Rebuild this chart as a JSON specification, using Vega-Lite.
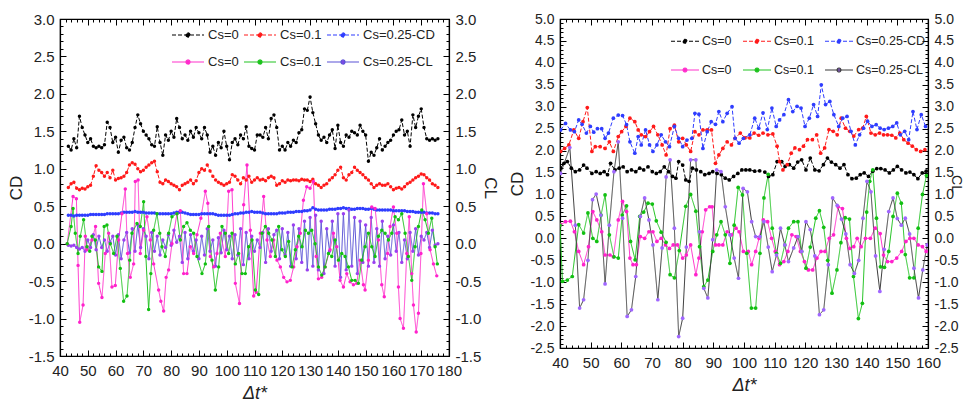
{
"$schema":"https://vega.github.io/schema/vega-lite/v6.json",
"padding":{"left":6,"top":11,"right":0,"bottom":0},
"spacing":8,
"config":{"font":"Liberation Sans","view":{"stroke":"#000","strokeWidth":1.2},
"axis":{"labelFont":"Liberation Sans","labelFontSize":15,"labelColor":"#222","domainColor":"#000","domainWidth":1.2,"tickColor":"#000","tickWidth":1,"grid":false,"labelOverlap":false,"labelFlush":false,"titleFont":"Liberation Sans","titleFontWeight":"normal","titleColor":"#222"},
"legend":{"labelFont":"Liberation Sans","labelFontSize":14,"labelColor":"#222"}},
"resolve":{"scale":{"stroke":"independent","color":"independent","strokeDash":"independent"},"legend":{"stroke":"independent","color":"independent","strokeDash":"independent"}},
"datasets":{
"L":[
{"t":43,"a":1.30,"b":0.75,"c":0.38,"f":-0.02},{"t":44,"a":1.25,"b":0.80,"c":0.38,"f":-0.03},{"t":45,"a":1.40,"b":0.82,"c":0.37,"f":-0.02},{"t":46,"a":1.28,"b":0.74,"c":0.38,"f":-0.05},{"t":47,"a":1.70,"b":0.72,"c":0.38,"f":-0.07},{"t":48,"a":1.55,"b":0.74,"c":0.38,"f":-0.05},{"t":49,"a":1.45,"b":0.73,"c":0.38,"f":-0.10},{"t":50,"a":1.35,"b":0.76,"c":0.38,"f":0.05},{"t":51,"a":1.40,"b":0.78,"c":0.39,"f":-0.05},{"t":52,"a":1.30,"b":0.90,"c":0.39,"f":0.12},{"t":53,"a":1.28,"b":1.04,"c":0.39,"f":-0.08},{"t":54,"a":1.30,"b":0.98,"c":0.39,"f":0.10},{"t":55,"a":1.28,"b":0.95,"c":0.39,"f":-0.05},{"t":56,"a":1.32,"b":0.90,"c":0.39,"f":0.05},{"t":57,"a":1.62,"b":0.95,"c":0.40,"f":-0.10},{"t":58,"a":1.55,"b":0.88,"c":0.40,"f":0.02},{"t":59,"a":1.35,"b":0.98,"c":0.40,"f":0.10},{"t":60,"a":1.42,"b":0.85,"c":0.40,"f":-0.15},{"t":61,"a":1.22,"b":0.87,"c":0.40,"f":0.12},{"t":62,"a":1.38,"b":0.88,"c":0.41,"f":-0.20},{"t":63,"a":1.42,"b":0.90,"c":0.42,"f":0.05},{"t":64,"a":1.28,"b":0.95,"c":0.42,"f":0.15},{"t":65,"a":1.25,"b":1.05,"c":0.42,"f":-0.12},{"t":66,"a":1.35,"b":1.08,"c":0.42,"f":0.20},{"t":67,"a":1.55,"b":1.06,"c":0.43,"f":-0.10},{"t":68,"a":1.72,"b":1.00,"c":0.42,"f":0.25},{"t":69,"a":1.60,"b":0.96,"c":0.42,"f":-0.05},{"t":70,"a":1.50,"b":0.98,"c":0.42,"f":0.20},{"t":71,"a":1.45,"b":1.02,"c":0.41,"f":0.10},{"t":72,"a":1.40,"b":1.05,"c":0.41,"f":-0.20},{"t":73,"a":1.32,"b":1.08,"c":0.41,"f":0.15},{"t":74,"a":1.30,"b":1.10,"c":0.41,"f":-0.10},{"t":75,"a":1.56,"b":0.96,"c":0.40,"f":0.10},{"t":76,"a":1.35,"b":0.82,"c":0.40,"f":-0.15},{"t":77,"a":1.18,"b":0.80,"c":0.40,"f":0.05},{"t":78,"a":1.45,"b":0.85,"c":0.40,"f":-0.05},{"t":79,"a":1.38,"b":0.83,"c":0.40,"f":0.12},{"t":80,"a":1.50,"b":0.80,"c":0.40,"f":-0.02},{"t":81,"a":1.42,"b":0.78,"c":0.41,"f":0.18},{"t":82,"a":1.67,"b":0.76,"c":0.42,"f":0.02},{"t":83,"a":1.55,"b":0.72,"c":0.42,"f":0.10},{"t":84,"a":1.40,"b":0.78,"c":0.42,"f":-0.25},{"t":85,"a":1.45,"b":0.80,"c":0.41,"f":0.15},{"t":86,"a":1.38,"b":0.82,"c":0.40,"f":-0.20},{"t":87,"a":1.50,"b":0.85,"c":0.39,"f":0.12},{"t":88,"a":1.42,"b":0.80,"c":0.39,"f":-0.10},{"t":89,"a":1.55,"b":0.84,"c":0.39,"f":0.05},{"t":90,"a":1.48,"b":0.95,"c":0.39,"f":-0.20},{"t":91,"a":1.40,"b":1.00,"c":0.40,"f":0.10},{"t":92,"a":1.55,"b":0.98,"c":0.40,"f":-0.15},{"t":93,"a":1.45,"b":1.05,"c":0.40,"f":0.20},{"t":94,"a":1.22,"b":0.97,"c":0.40,"f":-0.10},{"t":95,"a":1.30,"b":0.90,"c":0.40,"f":0.05},{"t":96,"a":1.18,"b":0.85,"c":0.39,"f":-0.30},{"t":97,"a":1.35,"b":0.82,"c":0.38,"f":0.08},{"t":98,"a":1.28,"b":0.80,"c":0.38,"f":-0.12},{"t":99,"a":1.50,"b":0.78,"c":0.38,"f":0.18},{"t":100,"a":1.30,"b":0.80,"c":0.38,"f":-0.08},{"t":101,"a":1.12,"b":0.82,"c":0.38,"f":0.10},{"t":102,"a":1.35,"b":0.92,"c":0.39,"f":-0.20},{"t":103,"a":1.40,"b":0.90,"c":0.40,"f":0.12},{"t":104,"a":1.32,"b":0.85,"c":0.40,"f":-0.15},{"t":105,"a":1.45,"b":0.80,"c":0.41,"f":0.20},{"t":106,"a":1.40,"b":0.88,"c":0.41,"f":-0.28},{"t":107,"a":1.56,"b":0.85,"c":0.42,"f":0.15},{"t":108,"a":1.30,"b":0.90,"c":0.42,"f":-0.20},{"t":109,"a":1.27,"b":0.82,"c":0.43,"f":0.10},{"t":110,"a":1.25,"b":0.85,"c":0.42,"f":-0.10},{"t":111,"a":1.45,"b":0.88,"c":0.42,"f":0.05},{"t":112,"a":1.45,"b":0.85,"c":0.42,"f":-0.05},{"t":113,"a":1.42,"b":0.86,"c":0.41,"f":0.15},{"t":114,"a":1.55,"b":0.84,"c":0.40,"f":-0.25},{"t":115,"a":1.40,"b":0.88,"c":0.40,"f":0.20},{"t":116,"a":1.67,"b":0.90,"c":0.40,"f":-0.10},{"t":117,"a":1.72,"b":0.88,"c":0.40,"f":0.12},{"t":118,"a":1.55,"b":0.78,"c":0.40,"f":0.18},{"t":119,"a":1.25,"b":0.80,"c":0.41,"f":-0.20},{"t":120,"a":1.30,"b":0.84,"c":0.41,"f":0.20},{"t":121,"a":1.25,"b":0.82,"c":0.41,"f":-0.15},{"t":122,"a":1.35,"b":0.85,"c":0.42,"f":0.15},{"t":123,"a":1.30,"b":0.84,"c":0.42,"f":-0.30},{"t":124,"a":1.38,"b":0.85,"c":0.42,"f":0.25},{"t":125,"a":1.35,"b":0.85,"c":0.43,"f":-0.20},{"t":126,"a":1.48,"b":0.84,"c":0.43,"f":0.20},{"t":127,"a":1.52,"b":0.86,"c":0.43,"f":-0.25},{"t":128,"a":1.80,"b":0.85,"c":0.44,"f":0.30},{"t":129,"a":1.78,"b":0.85,"c":0.44,"f":-0.35},{"t":130,"a":1.96,"b":0.83,"c":0.45,"f":0.35},{"t":131,"a":1.75,"b":0.86,"c":0.48,"f":-0.30},{"t":132,"a":1.60,"b":0.80,"c":0.46,"f":0.38},{"t":133,"a":1.45,"b":0.78,"c":0.45,"f":-0.35},{"t":134,"a":1.38,"b":0.75,"c":0.45,"f":0.30},{"t":135,"a":1.42,"b":0.78,"c":0.45,"f":-0.40},{"t":136,"a":1.35,"b":0.80,"c":0.45,"f":0.20},{"t":137,"a":1.45,"b":0.85,"c":0.46,"f":-0.10},{"t":138,"a":1.52,"b":0.88,"c":0.46,"f":0.30},{"t":139,"a":1.27,"b":0.92,"c":0.46,"f":-0.30},{"t":140,"a":1.58,"b":0.98,"c":0.47,"f":0.40},{"t":141,"a":1.35,"b":1.02,"c":0.47,"f":-0.45},{"t":142,"a":1.30,"b":0.88,"c":0.48,"f":0.40},{"t":143,"a":1.45,"b":0.85,"c":0.47,"f":-0.35},{"t":144,"a":1.42,"b":0.92,"c":0.47,"f":0.45},{"t":145,"a":1.50,"b":0.95,"c":0.46,"f":-0.30},{"t":146,"a":1.48,"b":1.02,"c":0.46,"f":0.35},{"t":147,"a":1.45,"b":0.98,"c":0.47,"f":-0.40},{"t":148,"a":1.58,"b":0.95,"c":0.47,"f":0.30},{"t":149,"a":1.50,"b":0.92,"c":0.47,"f":-0.25},{"t":150,"a":1.45,"b":0.88,"c":0.46,"f":0.25},{"t":151,"a":1.10,"b":0.85,"c":0.46,"f":-0.30},{"t":152,"a":1.22,"b":0.80,"c":0.47,"f":0.35},{"t":153,"a":1.18,"b":0.75,"c":0.46,"f":-0.25},{"t":154,"a":1.28,"b":0.78,"c":0.45,"f":0.20},{"t":155,"a":1.40,"b":0.80,"c":0.45,"f":-0.30},{"t":156,"a":1.25,"b":0.78,"c":0.45,"f":0.30},{"t":157,"a":1.30,"b":0.78,"c":0.45,"f":-0.20},{"t":158,"a":1.35,"b":0.80,"c":0.45,"f":0.10},{"t":159,"a":1.38,"b":0.76,"c":0.45,"f":-0.15},{"t":160,"a":1.45,"b":0.72,"c":0.44,"f":0.25},{"t":161,"a":1.50,"b":0.74,"c":0.44,"f":-0.10},{"t":162,"a":1.52,"b":0.75,"c":0.44,"f":0.15},{"t":163,"a":1.65,"b":0.73,"c":0.44,"f":-0.25},{"t":164,"a":1.45,"b":0.76,"c":0.44,"f":0.05},{"t":165,"a":1.50,"b":0.80,"c":0.43,"f":-0.20},{"t":166,"a":1.30,"b":0.82,"c":0.43,"f":0.15},{"t":167,"a":1.72,"b":0.85,"c":0.43,"f":-0.10},{"t":168,"a":1.55,"b":0.88,"c":0.42,"f":0.20},{"t":169,"a":1.70,"b":0.90,"c":0.42,"f":-0.15},{"t":170,"a":1.80,"b":0.93,"c":0.42,"f":0.10},{"t":171,"a":1.55,"b":0.92,"c":0.42,"f":0.05},{"t":172,"a":1.40,"b":0.88,"c":0.41,"f":0.15},{"t":173,"a":1.38,"b":0.85,"c":0.41,"f":-0.05},{"t":174,"a":1.40,"b":0.80,"c":0.41,"f":0.18},{"t":175,"a":1.38,"b":0.78,"c":0.40,"f":-0.02},{"t":176,"a":1.40,"b":0.75,"c":0.40,"f":0.00},
{"t":42.6,"d":0},{"t":44.7,"d":0.63},{"t":45.9,"d":0.6},{"t":46.5,"d":-0.29},{"t":47.1,"d":-1.05},{"t":48.3,"d":-0.82},{"t":49.1,"d":0.1},{"t":49.7,"d":-0.08},{"t":51.5,"d":0.05},{"t":52.8,"d":0.23},{"t":53.9,"d":-0.53},{"t":55.1,"d":-0.72},{"t":56.3,"d":-0.13},{"t":57.5,"d":0.14},{"t":58.7,"d":-0.58},{"t":59.9,"d":-0.56},{"t":61.1,"d":0.05},{"t":62.3,"d":0.4},{"t":63.5,"d":0.73},{"t":64.3,"d":-0.13},{"t":65.3,"d":-0.45},{"t":66.5,"d":-0.27},{"t":67.1,"d":0.83},{"t":68.1,"d":0.85},{"t":68.9,"d":-0.13},{"t":70.1,"d":0.18},{"t":71.3,"d":0.36},{"t":72.5,"d":0.05},{"t":73.7,"d":-0.27},{"t":75.5,"d":-0.62},{"t":76.3,"d":-0.77},{"t":77.3,"d":-0.9},{"t":78.2,"d":-0.45},{"t":79.1,"d":-0.35},{"t":80.3,"d":0},{"t":82.1,"d":0.4},{"t":83.3,"d":0.44},{"t":84.5,"d":-0.4},{"t":85.7,"d":-0.4},{"t":86.9,"d":-0.04},{"t":88.1,"d":-0.13},{"t":89.3,"d":0.12},{"t":90.7,"d":0.34},{"t":92.3,"d":0.7},{"t":93.2,"d":0.54},{"t":94.1,"d":-0.17},{"t":95.3,"d":-0.31},{"t":96.5,"d":-0.13},{"t":97.7,"d":0.14},{"t":99.5,"d":-0.17},{"t":100.7,"d":0.7},{"t":101.9,"d":0.72},{"t":103.1,"d":-0.53},{"t":104.6,"d":-0.8},{"t":106.1,"d":0.52},{"t":107.3,"d":1.05},{"t":108.5,"d":0.18},{"t":109.7,"d":-0.7},{"t":110.6,"d":-0.65},{"t":112.1,"d":0.14},{"t":113.3,"d":0.63},{"t":114.5,"d":0.05},{"t":115.7,"d":-0.17},{"t":116.9,"d":0.05},{"t":118.1,"d":-0.22},{"t":119.3,"d":-0.31},{"t":120.5,"d":-0.45},{"t":121.7,"d":-0.51},{"t":122.9,"d":-0.49},{"t":124.1,"d":-0.31},{"t":125.3,"d":-0.04},{"t":126.5,"d":0.14},{"t":127.6,"d":0.58},{"t":128.8,"d":0.76},{"t":130,"d":0.74},{"t":131.2,"d":0.83},{"t":132.2,"d":-0.17},{"t":133,"d":-0.47},{"t":134.2,"d":-0.45},{"t":135.4,"d":-0.31},{"t":137.2,"d":-0.08},{"t":138.4,"d":0.14},{"t":139.6,"d":-0.04},{"t":140.8,"d":-0.49},{"t":142,"d":-0.58},{"t":143.2,"d":-0.4},{"t":144.4,"d":-0.51},{"t":145.6,"d":-0.55},{"t":146.8,"d":-0.53},{"t":148,"d":-0.22},{"t":149.2,"d":-0.55},{"t":149.8,"d":-0.62},{"t":151,"d":-0.22},{"t":152.2,"d":0.49},{"t":153.4,"d":0.47},{"t":154.6,"d":0.05},{"t":155.8,"d":-0.55},{"t":156.7,"d":-0.71},{"t":157.9,"d":-0.13},{"t":158.8,"d":0.23},{"t":160,"d":0.49},{"t":161.2,"d":0.14},{"t":161.8,"d":-0.58},{"t":162.4,"d":-1.0},{"t":163.6,"d":-1.13},{"t":164.8,"d":-0.13},{"t":165.7,"d":0.36},{"t":166.6,"d":-0.4},{"t":167.2,"d":-0.82},{"t":168.2,"d":-1.18},{"t":169,"d":-0.93},{"t":169.9,"d":-0.13},{"t":170.8,"d":0.8},{"t":172,"d":0.4},{"t":173.2,"d":-0.08},{"t":174.4,"d":-0.27},{"t":175.6,"d":-0.43},
{"t":42.6,"e":0},{"t":44,"e":0.23},{"t":44.7,"e":0.47},{"t":45.5,"e":0.14},{"t":46.5,"e":-0.13},{"t":47.3,"e":0.1},{"t":48.5,"e":0.32},{"t":49.7,"e":-0.04},{"t":50.7,"e":-0.1},{"t":51.5,"e":0.1},{"t":52.7,"e":0.05},{"t":53.9,"e":-0.31},{"t":55.1,"e":-0.37},{"t":55.9,"e":0.23},{"t":56.9,"e":0.25},{"t":58.1,"e":0},{"t":59.3,"e":-0.13},{"t":60.5,"e":0.1},{"t":61.7,"e":-0.33},{"t":62.9,"e":-0.77},{"t":64.1,"e":-0.7},{"t":65.1,"e":-0.22},{"t":65.9,"e":0.14},{"t":67.7,"e":0.27},{"t":68.9,"e":0.23},{"t":70.1,"e":0.56},{"t":70.9,"e":-0.17},{"t":71.9,"e":-0.88},{"t":72.7,"e":-0.4},{"t":73.7,"e":0.18},{"t":74.9,"e":0.4},{"t":75.9,"e":0.14},{"t":76.7,"e":-0.04},{"t":77.9,"e":-0.17},{"t":79.1,"e":0.14},{"t":80.3,"e":0.36},{"t":82.1,"e":0.4},{"t":83.3,"e":0.05},{"t":84.5,"e":0.23},{"t":85.7,"e":0.28},{"t":86.9,"e":0.18},{"t":88.1,"e":0.14},{"t":89.3,"e":-0.17},{"t":91.1,"e":-0.4},{"t":92.3,"e":-0.27},{"t":93.5,"e":0.23},{"t":94.7,"e":-0.22},{"t":95.9,"e":-0.62},{"t":97.1,"e":-0.31},{"t":98.3,"e":0.23},{"t":99.5,"e":0.14},{"t":100.7,"e":-0.13},{"t":101.9,"e":0.14},{"t":103.1,"e":-0.27},{"t":104.3,"e":-0.13},{"t":105.5,"e":-0.4},{"t":106.7,"e":-0.4},{"t":107.9,"e":-0.04},{"t":109.1,"e":0.05},{"t":110.3,"e":-0.62},{"t":111.5,"e":-0.68},{"t":112.7,"e":0.14},{"t":113.9,"e":0.23},{"t":115.1,"e":0.14},{"t":116.3,"e":0.05},{"t":117.5,"e":-0.17},{"t":118.7,"e":0.23},{"t":119.9,"e":-0.08},{"t":121.1,"e":-0.17},{"t":122.3,"e":0.03},{"t":123.5,"e":-0.31},{"t":124.7,"e":-0.08},{"t":125.9,"e":0.1},{"t":127.1,"e":-0.04},{"t":128.3,"e":0.18},{"t":129.4,"e":0.14},{"t":130.6,"e":0.18},{"t":131.8,"e":0},{"t":133,"e":-0.31},{"t":134.2,"e":-0.42},{"t":135.4,"e":-0.31},{"t":136.6,"e":-0.13},{"t":137.8,"e":-0.17},{"t":139,"e":0.05},{"t":140.2,"e":-0.22},{"t":141.4,"e":-0.13},{"t":142.6,"e":-0.17},{"t":143.8,"e":-0.31},{"t":145,"e":-0.49},{"t":146.2,"e":-0.49},{"t":147.4,"e":-0.53},{"t":148.6,"e":-0.22},{"t":149.8,"e":-0.04},{"t":151,"e":0.14},{"t":152.2,"e":-0.04},{"t":153.4,"e":-0.17},{"t":154.6,"e":0.1},{"t":155.8,"e":0.18},{"t":157,"e":0.14},{"t":158.2,"e":0.05},{"t":159.4,"e":0.14},{"t":160.6,"e":0.36},{"t":161.8,"e":0.32},{"t":163,"e":0.4},{"t":164.2,"e":0.14},{"t":165.4,"e":-0.17},{"t":166.6,"e":-0.49},{"t":167.8,"e":-0.04},{"t":169,"e":0.23},{"t":170.2,"e":0.45},{"t":171.4,"e":0.32},{"t":172.6,"e":0.14},{"t":173.8,"e":0.34},{"t":175,"e":-0.04},{"t":175.8,"e":-0.27}
],
"R":[
{"t":40.2,"a":1.6},{"t":41.3,"a":1.71},{"t":42.4,"a":1.75},{"t":43.7,"a":1.6},{"t":45.0,"a":1.52},{"t":46.4,"a":1.56},{"t":47.7,"a":1.67},{"t":48.8,"a":1.6},{"t":50.4,"a":1.48},{"t":51.8,"a":1.52},{"t":53.1,"a":1.48},{"t":54.4,"a":1.52},{"t":55.5,"a":1.45},{"t":56.5,"a":1.71},{"t":57.9,"a":1.56},{"t":59.3,"a":1.6},{"t":60.6,"a":1.63},{"t":61.9,"a":1.52},{"t":63.3,"a":1.56},{"t":64.7,"a":1.52},{"t":66.0,"a":1.6},{"t":67.3,"a":1.56},{"t":68.7,"a":1.63},{"t":70.1,"a":1.52},{"t":71.4,"a":1.48},{"t":72.7,"a":1.52},{"t":74.0,"a":1.63},{"t":75.4,"a":1.52},{"t":76.7,"a":1.41},{"t":77.8,"a":1.37},{"t":78.7,"a":1.75},{"t":80.0,"a":1.67},{"t":81.0,"a":1.33},{"t":82.1,"a":1.3},{"t":83.2,"a":1.6},{"t":84.5,"a":1.56},{"t":85.9,"a":1.52},{"t":87.2,"a":1.45},{"t":88.6,"a":1.48},{"t":89.8,"a":1.52},{"t":91.2,"a":1.48},{"t":92.6,"a":1.45},{"t":93.9,"a":1.37},{"t":95.2,"a":1.33},{"t":96.6,"a":1.41},{"t":98.0,"a":1.48},{"t":99.3,"a":1.56},{"t":100.6,"a":1.56},{"t":101.9,"a":1.56},{"t":103.5,"a":1.53},{"t":105.1,"a":1.54},{"t":106.8,"a":1.51},{"t":108.0,"a":1.41},{"t":109.4,"a":1.45},{"t":110.8,"a":1.75},{"t":112.3,"a":1.75},{"t":113.4,"a":1.64},{"t":114.8,"a":1.68},{"t":116.2,"a":1.6},{"t":117.5,"a":1.74},{"t":118.8,"a":1.79},{"t":120.2,"a":1.56},{"t":121.6,"a":1.83},{"t":123.1,"a":1.56},{"t":124.5,"a":1.54},{"t":125.9,"a":1.68},{"t":127.2,"a":1.83},{"t":128.5,"a":1.74},{"t":129.9,"a":1.68},{"t":131.3,"a":1.6},{"t":132.6,"a":1.68},{"t":133.9,"a":1.45},{"t":135.2,"a":1.36},{"t":136.6,"a":1.37},{"t":137.9,"a":1.45},{"t":139.2,"a":1.49},{"t":140.6,"a":1.41},{"t":142.0,"a":1.53},{"t":143.3,"a":1.59},{"t":144.6,"a":1.59},{"t":146.0,"a":1.56},{"t":147.4,"a":1.49},{"t":148.7,"a":1.56},{"t":150.0,"a":1.64},{"t":151.4,"a":1.56},{"t":152.8,"a":1.49},{"t":154.1,"a":1.51},{"t":155.4,"a":1.45},{"t":156.7,"a":1.36},{"t":158.1,"a":1.49},{"t":159.4,"a":1.53},
{"t":40.2,"b":1.98},{"t":41.5,"b":2.05},{"t":42.9,"b":2.13},{"t":44.5,"b":2.47},{"t":46.1,"b":2.28},{"t":47.5,"b":2.66},{"t":48.9,"b":2.98},{"t":50.4,"b":1.98},{"t":51.5,"b":2.09},{"t":53.1,"b":2.09},{"t":54.7,"b":2.05},{"t":56.1,"b":2.2},{"t":57.4,"b":1.98},{"t":59.0,"b":2.32},{"t":60.1,"b":2.43},{"t":61.5,"b":2.55},{"t":62.8,"b":2.74},{"t":64.4,"b":2.66},{"t":65.5,"b":2.47},{"t":66.5,"b":2.36},{"t":67.9,"b":2.32},{"t":69.2,"b":2.43},{"t":70.5,"b":2.55},{"t":71.9,"b":2.36},{"t":73.3,"b":2.13},{"t":74.6,"b":1.9},{"t":75.9,"b":2.5},{"t":77.3,"b":2.58},{"t":78.7,"b":2.2},{"t":80.0,"b":2.28},{"t":81.2,"b":2.13},{"t":82.6,"b":1.98},{"t":84.0,"b":2.43},{"t":85.3,"b":2.36},{"t":86.6,"b":2.47},{"t":88.0,"b":2.47},{"t":89.4,"b":2.47},{"t":90.7,"b":1.71},{"t":91.8,"b":1.9},{"t":93.1,"b":2.05},{"t":94.5,"b":2.2},{"t":95.9,"b":2.13},{"t":97.1,"b":2.28},{"t":98.8,"b":2.4},{"t":100.3,"b":2.29},{"t":101.9,"b":2.29},{"t":103.3,"b":2.4},{"t":104.8,"b":2.35},{"t":106.2,"b":2.4},{"t":107.8,"b":2.36},{"t":109.4,"b":2.38},{"t":110.8,"b":2.1},{"t":111.6,"b":1.75},{"t":112.7,"b":1.56},{"t":114.1,"b":1.68},{"t":115.4,"b":1.94},{"t":116.6,"b":2.06},{"t":118.1,"b":2.02},{"t":119.4,"b":2.1},{"t":120.7,"b":2.25},{"t":122.3,"b":2.25},{"t":123.7,"b":2.36},{"t":125.0,"b":1.94},{"t":126.3,"b":2.06},{"t":127.7,"b":2.48},{"t":129.1,"b":2.44},{"t":130.4,"b":2.36},{"t":131.7,"b":2.74},{"t":133.1,"b":2.51},{"t":134.5,"b":2.44},{"t":135.8,"b":2.33},{"t":137.4,"b":2.48},{"t":138.7,"b":2.51},{"t":139.9,"b":2.78},{"t":141.4,"b":2.4},{"t":142.8,"b":2.36},{"t":144.2,"b":2.4},{"t":145.5,"b":2.36},{"t":146.8,"b":2.36},{"t":148.2,"b":2.35},{"t":149.5,"b":2.29},{"t":150.8,"b":2.4},{"t":152.1,"b":2.25},{"t":153.5,"b":2.17},{"t":154.9,"b":2.1},{"t":156.2,"b":2.02},{"t":157.6,"b":1.98},{"t":159.0,"b":2.02},
{"t":40.2,"c":2.47},{"t":41.8,"c":2.62},{"t":43.4,"c":2.47},{"t":44.7,"c":2.43},{"t":46.1,"c":2.7},{"t":47.2,"c":2.6},{"t":48.6,"c":2.4},{"t":49.9,"c":2.55},{"t":51.0,"c":2.42},{"t":52.2,"c":2.5},{"t":53.6,"c":2.5},{"t":54.7,"c":2.28},{"t":55.8,"c":2.4},{"t":57.4,"c":2.74},{"t":59.0,"c":2.81},{"t":60.4,"c":2.8},{"t":61.7,"c":2.59},{"t":62.8,"c":2.2},{"t":64.4,"c":1.94},{"t":65.5,"c":2.32},{"t":66.5,"c":2.13},{"t":67.9,"c":2.47},{"t":69.2,"c":2.13},{"t":70.3,"c":1.98},{"t":71.6,"c":2.13},{"t":73.0,"c":2.36},{"t":74.4,"c":2.2},{"t":75.7,"c":2.09},{"t":77.3,"c":2.55},{"t":78.7,"c":2.28},{"t":80.0,"c":2.09},{"t":81.4,"c":2.24},{"t":83.0,"c":2.28},{"t":84.0,"c":2.85},{"t":85.3,"c":2.83},{"t":86.6,"c":2.05},{"t":88.0,"c":2.43},{"t":89.3,"c":2.66},{"t":90.7,"c":2.6},{"t":91.8,"c":2.89},{"t":93.1,"c":2.66},{"t":94.5,"c":2.85},{"t":96.1,"c":3.0},{"t":97.1,"c":2.28},{"t":98.4,"c":2.17},{"t":99.8,"c":2.28},{"t":101.9,"c":2.36},{"t":103.5,"c":2.74},{"t":104.8,"c":2.51},{"t":106.2,"c":2.86},{"t":107.6,"c":2.48},{"t":109.1,"c":2.97},{"t":110.5,"c":2.55},{"t":111.6,"c":2.7},{"t":113.0,"c":2.82},{"t":114.5,"c":3.16},{"t":115.9,"c":2.89},{"t":117.3,"c":3.01},{"t":118.6,"c":2.97},{"t":119.9,"c":2.55},{"t":121.3,"c":2.74},{"t":122.7,"c":3.05},{"t":124.0,"c":2.78},{"t":125.2,"c":3.5},{"t":126.6,"c":3.05},{"t":128.0,"c":3.12},{"t":129.3,"c":2.82},{"t":130.9,"c":2.55},{"t":132.2,"c":2.74},{"t":133.6,"c":2.78},{"t":134.9,"c":2.44},{"t":136.3,"c":2.13},{"t":137.7,"c":2.36},{"t":139.0,"c":2.51},{"t":140.3,"c":2.67},{"t":141.7,"c":2.55},{"t":143.1,"c":2.59},{"t":144.4,"c":2.51},{"t":145.7,"c":2.48},{"t":147.1,"c":2.51},{"t":148.5,"c":2.55},{"t":149.8,"c":2.63},{"t":151.0,"c":2.36},{"t":152.4,"c":2.44},{"t":153.7,"c":2.25},{"t":155.1,"c":2.89},{"t":156.4,"c":2.48},{"t":157.8,"c":2.82},{"t":159.2,"c":2.55},
{"t":40.2,"d":0.31},{"t":41.8,"d":0.38},{"t":43.4,"d":0.39},{"t":44.7,"d":0.15},{"t":46.1,"d":-0.3},{"t":47.7,"d":-0.6},{"t":49.3,"d":-0.19},{"t":50.7,"d":0.61},{"t":52.0,"d":0.42},{"t":53.6,"d":0.15},{"t":54.7,"d":-0.38},{"t":56.3,"d":-0.38},{"t":57.4,"d":-0.42},{"t":59.0,"d":0.42},{"t":60.4,"d":0.84},{"t":61.7,"d":0.61},{"t":62.8,"d":-0.45},{"t":63.8,"d":-0.6},{"t":64.9,"d":-0.6},{"t":66.2,"d":0.04},{"t":67.6,"d":0},{"t":69.0,"d":0.15},{"t":70.3,"d":0.15},{"t":71.6,"d":-0.07},{"t":73.0,"d":0},{"t":74.4,"d":-0.15},{"t":75.7,"d":-0.23},{"t":76.9,"d":-0.15},{"t":78.3,"d":-0.15},{"t":80.0,"d":-0.45},{"t":81.2,"d":-0.38},{"t":82.6,"d":-0.15},{"t":84.3,"d":-0.83},{"t":85.3,"d":-0.45},{"t":86.4,"d":0.15},{"t":87.5,"d":0.65},{"t":88.8,"d":0.72},{"t":89.6,"d":0.72},{"t":90.7,"d":-0.15},{"t":91.8,"d":-0.15},{"t":93.1,"d":-0.15},{"t":94.5,"d":0.15},{"t":95.9,"d":0.08},{"t":97.4,"d":0.23},{"t":98.4,"d":0.15},{"t":99.8,"d":-0.3},{"t":101.4,"d":-0.3},{"t":102.5,"d":-0.6},{"t":103.8,"d":-0.3},{"t":104.9,"d":0},{"t":106.3,"d":0.42},{"t":107.7,"d":0.38},{"t":109.0,"d":0},{"t":110.2,"d":-0.3},{"t":111.6,"d":-0.6},{"t":113.0,"d":-0.53},{"t":114.3,"d":-0.3},{"t":115.6,"d":0.08},{"t":117.0,"d":0.04},{"t":118.4,"d":-0.3},{"t":119.7,"d":-0.53},{"t":121.0,"d":-0.72},{"t":122.4,"d":-0.72},{"t":123.8,"d":-0.45},{"t":125.1,"d":-0.3},{"t":126.4,"d":-0.3},{"t":127.8,"d":0},{"t":129.2,"d":0.08},{"t":130.7,"d":0.72},{"t":132.1,"d":0.68},{"t":133.4,"d":0},{"t":134.5,"d":-0.23},{"t":135.8,"d":-0.19},{"t":136.9,"d":0},{"t":138.2,"d":-0.19},{"t":139.6,"d":0},{"t":141.2,"d":0},{"t":142.8,"d":0.23},{"t":144.4,"d":0.11},{"t":145.5,"d":-0.38},{"t":146.8,"d":-0.53},{"t":148.2,"d":-0.53},{"t":149.8,"d":-0.45},{"t":151.4,"d":-0.3},{"t":152.8,"d":-0.07},{"t":154.1,"d":0},{"t":155.4,"d":0},{"t":156.8,"d":-0.15},{"t":158.2,"d":-0.19},{"t":159.4,"d":-0.3},
{"t":40.0,"e":0.3},{"t":40.8,"e":-0.98},{"t":42.4,"e":-0.95},{"t":44.0,"e":-0.87},{"t":46.1,"e":0.31},{"t":47.7,"e":0.12},{"t":49.1,"e":0.58},{"t":50.7,"e":0.0},{"t":52.0,"e":-0.07},{"t":53.4,"e":0.53},{"t":54.7,"e":0.99},{"t":56.1,"e":0.08},{"t":57.6,"e":-0.42},{"t":59.0,"e":-0.45},{"t":60.3,"e":0.53},{"t":61.7,"e":0.74},{"t":63.0,"e":-0.07},{"t":64.5,"e":-0.49},{"t":66.0,"e":0.5},{"t":67.3,"e":0.6},{"t":68.7,"e":0.8},{"t":70.1,"e":0.78},{"t":71.4,"e":0.4},{"t":73.0,"e":0.14},{"t":74.6,"e":-0.09},{"t":75.9,"e":-0.83},{"t":77.3,"e":-0.9},{"t":78.9,"e":-0.28},{"t":81.0,"e":0.73},{"t":82.6,"e":1.0},{"t":84.3,"e":0.62},{"t":85.5,"e":-0.19},{"t":86.9,"e":-1.1},{"t":88.2,"e":-0.95},{"t":89.8,"e":-0.3},{"t":91.1,"e":0.08},{"t":92.5,"e":0.38},{"t":93.9,"e":0.08},{"t":95.4,"e":-0.57},{"t":96.8,"e":0.3},{"t":98.1,"e":1.16},{"t":99.5,"e":0.99},{"t":100.9,"e":-0.34},{"t":102.4,"e":-1.59},{"t":103.8,"e":-1.59},{"t":105.2,"e":-0.34},{"t":106.5,"e":0.92},{"t":107.9,"e":1.46},{"t":109.2,"e":0.23},{"t":110.6,"e":-0.34},{"t":111.9,"e":-0.57},{"t":113.3,"e":-0.15},{"t":114.5,"e":0.23},{"t":116.2,"e":0.38},{"t":117.6,"e":0.38},{"t":118.8,"e":-0.3},{"t":120.2,"e":-0.68},{"t":121.6,"e":-0.2},{"t":123.4,"e":0.46},{"t":124.6,"e":0.63},{"t":126.0,"e":0.25},{"t":127.3,"e":-0.5},{"t":128.7,"e":-1.25},{"t":130.3,"e":-0.72},{"t":131.6,"e":-0.1},{"t":133.0,"e":0.47},{"t":134.4,"e":0.44},{"t":135.7,"e":-0.87},{"t":137.3,"e":-1.83},{"t":138.6,"e":-1.48},{"t":140.0,"e":0.6},{"t":141.0,"e":1.3},{"t":142.0,"e":1.56},{"t":143.2,"e":0.46},{"t":144.5,"e":-0.65},{"t":145.8,"e":-0.66},{"t":147.2,"e":-0.3},{"t":148.6,"e":0.5},{"t":150.0,"e":1.03},{"t":151.3,"e":0.8},{"t":152.6,"e":-0.37},{"t":154.0,"e":-0.9},{"t":155.4,"e":-0.9},{"t":156.8,"e":0.23},{"t":158.2,"e":1.0},{"t":159.5,"e":1.43},
{"t":40.2,"f":1.48},{"t":43.2,"f":2.07},{"t":45.0,"f":0.3},{"t":46.4,"f":-1.59},{"t":47.7,"f":-1.4},{"t":49.1,"f":-0.5},{"t":50.6,"f":0.88},{"t":51.8,"f":1.01},{"t":53.3,"f":0.53},{"t":54.7,"f":-1.04},{"t":56.1,"f":0.3},{"t":57.6,"f":1.52},{"t":59.0,"f":2.2},{"t":60.4,"f":0.46},{"t":61.9,"f":-1.78},{"t":63.3,"f":-1.63},{"t":64.7,"f":-0.87},{"t":66.2,"f":0.5},{"t":67.6,"f":0.92},{"t":69.0,"f":0.42},{"t":70.3,"f":-0.15},{"t":71.9,"f":-1.4},{"t":73.3,"f":-0.22},{"t":74.6,"f":1.4},{"t":75.9,"f":1.79},{"t":77.3,"f":0.23},{"t":78.7,"f":-2.24},{"t":80.0,"f":-1.82},{"t":81.2,"f":-0.2},{"t":82.6,"f":1.79},{"t":84.3,"f":1.79},{"t":85.5,"f":0.15},{"t":86.9,"f":-1.14},{"t":88.2,"f":-1.36},{"t":89.8,"f":-0.03},{"t":91.1,"f":1.56},{"t":92.5,"f":1.52},{"t":93.9,"f":0.72},{"t":95.4,"f":0.08},{"t":96.8,"f":-0.45},{"t":98.2,"f":-0.91},{"t":99.7,"f":1.14},{"t":101.1,"f":1.06},{"t":102.5,"f":0.38},{"t":103.8,"f":0.04},{"t":105.2,"f":0.04},{"t":106.5,"f":0.38},{"t":107.9,"f":-0.2},{"t":109.2,"f":-0.76},{"t":110.6,"f":-0.38},{"t":111.9,"f":0.23},{"t":113.3,"f":-0.15},{"t":114.5,"f":-0.53},{"t":116.2,"f":-0.22},{"t":117.6,"f":0.04},{"t":118.8,"f":-0.3},{"t":120.2,"f":0.38},{"t":121.6,"f":0.2},{"t":123.1,"f":-0.4},{"t":124.6,"f":-1.74},{"t":126.0,"f":-1.63},{"t":127.5,"f":-0.6},{"t":128.9,"f":0.92},{"t":130.4,"f":0.75},{"t":131.8,"f":0.44},{"t":133.2,"f":0.1},{"t":134.6,"f":-0.6},{"t":136.0,"f":-0.8},{"t":137.4,"f":-0.5},{"t":138.8,"f":0.46},{"t":140.1,"f":1.3},{"t":141.4,"f":1.06},{"t":142.9,"f":-0.4},{"t":144.3,"f":-1.21},{"t":145.7,"f":-0.25},{"t":147.2,"f":0.61},{"t":148.6,"f":0.92},{"t":150.0,"f":0.45},{"t":151.3,"f":0.3},{"t":152.6,"f":0.46},{"t":154.0,"f":0.1},{"t":155.4,"f":-0.68},{"t":156.9,"f":-1.36},{"t":158.3,"f":-0.72},{"t":159.7,"f":-0.15}
]},
"hconcat":[
{
"width":389,"height":337,
"data":{"name":"L"},
"transform":[{"fold":["a","b","c","d","e","f"],"as":["s","v"]},{"filter":"isValid(datum.v)"}],
"layer":[
{"mark":{"type":"line","strokeWidth":1,"clip":true},
"encoding":{
"x":{"field":"t","type":"quantitative","scale":{"domain":[40,180],"nice":false},
"axis":{"orient":"bottom","values":[40,42,44,46,48,50,52,54,56,58,60,62,64,66,68,70,72,74,76,78,80,82,84,86,88,90,92,94,96,98,100,102,104,106,108,110,112,114,116,118,120,122,124,126,128,130,132,134,136,138,140,142,144,146,148,150,152,154,156,158,160,162,164,166,168,170,172,174,176,178,180],
"labelExpr":"datum.value%10==0 ? format(datum.value,'d') : ''","tickSize":{"condition":{"test":"datum.value%10==0","value":-6},"value":-3},"labelPadding":13,"title":"Δt*","titleFontSize":18,"titleFontStyle":"italic","titlePadding":3}},
"y":{"field":"v","type":"quantitative","scale":{"domain":[-1.5,3],"nice":false},
"axis":{"orient":"left","values":[-1.5,-1.4,-1.3,-1.2,-1.1,-1,-0.9,-0.8,-0.7,-0.6,-0.5,-0.4,-0.3,-0.2,-0.1,0,0.1,0.2,0.3,0.4,0.5,0.6,0.7,0.8,0.9,1,1.1,1.2,1.3,1.4,1.5,1.6,1.7,1.8,1.9,2,2.1,2.2,2.3,2.4,2.5,2.6,2.7,2.8,2.9,3],
"labelExpr":"abs(datum.value*2-round(datum.value*2))<0.01 ? (datum.value<-0.001?'-':'')+format(abs(datum.value),'.1f') : ''","tickSize":{"condition":{"test":"abs(datum.value*2-round(datum.value*2))<0.01","value":-6},"value":-3},"labelPadding":12,"title":"CD","titleFontSize":17,"titlePadding":3}},
"stroke":{"field":"s","type":"nominal","scale":{"domain":["a","b","c","d","e","f"],"range":["#000000","#ff1a1a","#2f3dff","#ff33cc","#22c322","#5a52d6"]},
"legend":{"orient":"none","legendX":111,"legendY":-1,"direction":"horizontal","columns":3,"title":null,"symbolType":"M-1,0H1M-0.13,0A0.13,0.13,0,1,0,0.13,0A0.13,0.13,0,1,0,-0.13,0Z","symbolSize":1024,"symbolStrokeWidth":1.1,"labelOffset":3,"columnPadding":2,"rowPadding":3,"padding":0,"labelFontSize":13,
"labelExpr":"datum.value=='a'||datum.value=='d' ? 'Cs=0' : (datum.value=='b'||datum.value=='e' ? 'Cs=0.1' : (datum.value=='c' ? 'Cs=0.25-CD' : 'Cs=0.25-CL'))",
"encode":{"symbols":{"update":{
"stroke":{"signal":"datum.value=='a'?'#000000':datum.value=='b'?'#ff1a1a':datum.value=='c'?'#2f3dff':datum.value=='d'?'#ff33cc':datum.value=='e'?'#22c322':'#5a52d6'"},
"fill":{"signal":"datum.value=='a'?'#000000':datum.value=='b'?'#ff1a1a':datum.value=='c'?'#2f3dff':datum.value=='d'?'#ff22cc':datum.value=='e'?'#12c012':'#9a40f0'"},
"strokeDash":{"signal":"indexof(['a','b','c'],datum.value)>=0 ? [3,2] : [1,0]"},
"opacity":{"value":1}}}}}},
"strokeDash":{"field":"s","type":"nominal","scale":{"domain":["a","b","c","d","e","f"],"range":[[4,2],[4,2],[4,2],[1,0],[1,0],[1,0]]},"legend":null}}},
{"mark":{"type":"point","filled":true,"size":12,"opacity":1,"clip":true},
"encoding":{
"x":{"field":"t","type":"quantitative","axis":{"orient":"top","values":[40,42,44,46,48,50,52,54,56,58,60,62,64,66,68,70,72,74,76,78,80,82,84,86,88,90,92,94,96,98,100,102,104,106,108,110,112,114,116,118,120,122,124,126,128,130,132,134,136,138,140,142,144,146,148,150,152,154,156,158,160,162,164,166,168,170,172,174,176,178,180],"labels":false,"title":null,"tickSize":{"condition":{"test":"datum.value%10==0","value":-6},"value":-3}}},
"y":{"field":"v","type":"quantitative","axis":{"orient":"right","values":[-1.5,-1.4,-1.3,-1.2,-1.1,-1,-0.9,-0.8,-0.7,-0.6,-0.5,-0.4,-0.3,-0.2,-0.1,0,0.1,0.2,0.3,0.4,0.5,0.6,0.7,0.8,0.9,1,1.1,1.2,1.3,1.4,1.5,1.6,1.7,1.8,1.9,2,2.1,2.2,2.3,2.4,2.5,2.6,2.7,2.8,2.9,3],
"labelExpr":"abs(datum.value*2-round(datum.value*2))<0.01 ? (datum.value<-0.001?'-':'')+format(abs(datum.value),'.1f') : ''","tickSize":{"condition":{"test":"abs(datum.value*2-round(datum.value*2))<0.01","value":-6},"value":-3},"labelPadding":12,"title":"CL","titleFontSize":17,"titlePadding":0}},
"color":{"field":"s","type":"nominal","scale":{"domain":["a","b","c","d","e","f"],"range":["#000000","#ff1a1a","#2f3dff","#ff22cc","#12c012","#9a40f0"]},"legend":null}}}
],
"resolve":{"axis":{"x":"independent","y":"independent"}}
},
{
"width":368,"height":329,
"data":{"name":"R"},
"transform":[{"fold":["a","b","c","d","e","f"],"as":["s","v"]},{"filter":"isValid(datum.v)"}],
"layer":[
{"mark":{"type":"line","strokeWidth":1,"clip":true},
"encoding":{
"x":{"field":"t","type":"quantitative","scale":{"domain":[40,160],"nice":false},
"axis":{"orient":"bottom","values":[40,42,44,46,48,50,52,54,56,58,60,62,64,66,68,70,72,74,76,78,80,82,84,86,88,90,92,94,96,98,100,102,104,106,108,110,112,114,116,118,120,122,124,126,128,130,132,134,136,138,140,142,144,146,148,150,152,154,156,158,160],
"labelExpr":"datum.value%10==0 ? format(datum.value,'d') : ''","tickSize":{"condition":{"test":"datum.value%10==0","value":-6},"value":-3},"labelPadding":13,"title":"Δt*","titleFontSize":18,"titleFontStyle":"italic","titlePadding":3}},
"y":{"field":"v","type":"quantitative","scale":{"domain":[-2.5,5],"nice":false},
"axis":{"orient":"left","values":[-2.5,-2.4,-2.3,-2.2,-2.1,-2,-1.9,-1.8,-1.7,-1.6,-1.5,-1.4,-1.3,-1.2,-1.1,-1,-0.9,-0.8,-0.7,-0.6,-0.5,-0.4,-0.3,-0.2,-0.1,0,0.1,0.2,0.3,0.4,0.5,0.6,0.7,0.8,0.9,1,1.1,1.2,1.3,1.4,1.5,1.6,1.7,1.8,1.9,2,2.1,2.2,2.3,2.4,2.5,2.6,2.7,2.8,2.9,3,3.1,3.2,3.3,3.4,3.5,3.6,3.7,3.8,3.9,4,4.1,4.2,4.3,4.4,4.5,4.6,4.7,4.8,4.9,5],
"labelExpr":"abs(datum.value*2-round(datum.value*2))<0.01 ? (datum.value<-0.001?'-':'')+format(abs(datum.value),'.1f') : ''","tickSize":{"condition":{"test":"abs(datum.value*2-round(datum.value*2))<0.01","value":-6},"value":-3},"labelPadding":12,"labelFontSize":14,"title":"CD","titleFontSize":17,"titlePadding":3}},
"stroke":{"field":"s","type":"nominal","scale":{"domain":["a","b","c","d","e","f"],"range":["#000000","#ff1a1a","#2f3dff","#ff33cc","#22c322","#3a3a3a"]},
"legend":{"orient":"none","legendX":110,"legendY":7,"direction":"horizontal","columns":3,"title":null,"symbolType":"M-1,0H1M-0.14,0A0.14,0.14,0,1,0,0.14,0A0.14,0.14,0,1,0,-0.14,0Z","symbolSize":784,"symbolStrokeWidth":1.1,"labelOffset":2,"columnPadding":8,"rowPadding":7,"padding":0,"labelFontSize":12.5,
"labelExpr":"datum.value=='a'||datum.value=='d' ? 'Cs=0' : (datum.value=='b'||datum.value=='e' ? 'Cs=0.1' : (datum.value=='c' ? 'Cs=0.25-CD' : 'Cs=0.25-CL'))",
"encode":{"symbols":{"update":{
"stroke":{"signal":"datum.value=='a'?'#000000':datum.value=='b'?'#ff1a1a':datum.value=='c'?'#2f3dff':datum.value=='d'?'#ff33cc':datum.value=='e'?'#22c322':'#3a3a3a'"},
"fill":{"signal":"datum.value=='a'?'#000000':datum.value=='b'?'#ff1a1a':datum.value=='c'?'#2f3dff':datum.value=='d'?'#ff22cc':datum.value=='e'?'#12c012':'#a066ff'"},
"strokeDash":{"signal":"indexof(['a','b','c'],datum.value)>=0 ? [3,2] : [1,0]"},
"opacity":{"value":1}}}}}},
"strokeDash":{"field":"s","type":"nominal","scale":{"domain":["a","b","c","d","e","f"],"range":[[4,2],[4,2],[4,2],[1,0],[1,0],[1,0]]},"legend":null}}},
{"mark":{"type":"point","filled":true,"size":14,"opacity":1,"clip":true},
"encoding":{
"x":{"field":"t","type":"quantitative","axis":{"orient":"top","values":[40,42,44,46,48,50,52,54,56,58,60,62,64,66,68,70,72,74,76,78,80,82,84,86,88,90,92,94,96,98,100,102,104,106,108,110,112,114,116,118,120,122,124,126,128,130,132,134,136,138,140,142,144,146,148,150,152,154,156,158,160],"labels":false,"title":null,"tickSize":{"condition":{"test":"datum.value%10==0","value":-6},"value":-3}}},
"y":{"field":"v","type":"quantitative","axis":{"orient":"right","values":[-2.5,-2.4,-2.3,-2.2,-2.1,-2,-1.9,-1.8,-1.7,-1.6,-1.5,-1.4,-1.3,-1.2,-1.1,-1,-0.9,-0.8,-0.7,-0.6,-0.5,-0.4,-0.3,-0.2,-0.1,0,0.1,0.2,0.3,0.4,0.5,0.6,0.7,0.8,0.9,1,1.1,1.2,1.3,1.4,1.5,1.6,1.7,1.8,1.9,2,2.1,2.2,2.3,2.4,2.5,2.6,2.7,2.8,2.9,3,3.1,3.2,3.3,3.4,3.5,3.6,3.7,3.8,3.9,4,4.1,4.2,4.3,4.4,4.5,4.6,4.7,4.8,4.9,5],
"labelExpr":"abs(datum.value*2-round(datum.value*2))<0.01 ? (datum.value<-0.001?'-':'')+format(abs(datum.value),'.1f') : ''","tickSize":{"condition":{"test":"abs(datum.value*2-round(datum.value*2))<0.01","value":-6},"value":-3},"labelPadding":12,"labelFontSize":14,"title":"CL","titleFontSize":14,"titlePadding":-10}},
"color":{"field":"s","type":"nominal","scale":{"domain":["a","b","c","d","e","f"],"range":["#000000","#ff1a1a","#2f3dff","#ff22cc","#12c012","#a066ff"]},"legend":null}}}
],
"resolve":{"axis":{"x":"independent","y":"independent"}}
}
]
}
